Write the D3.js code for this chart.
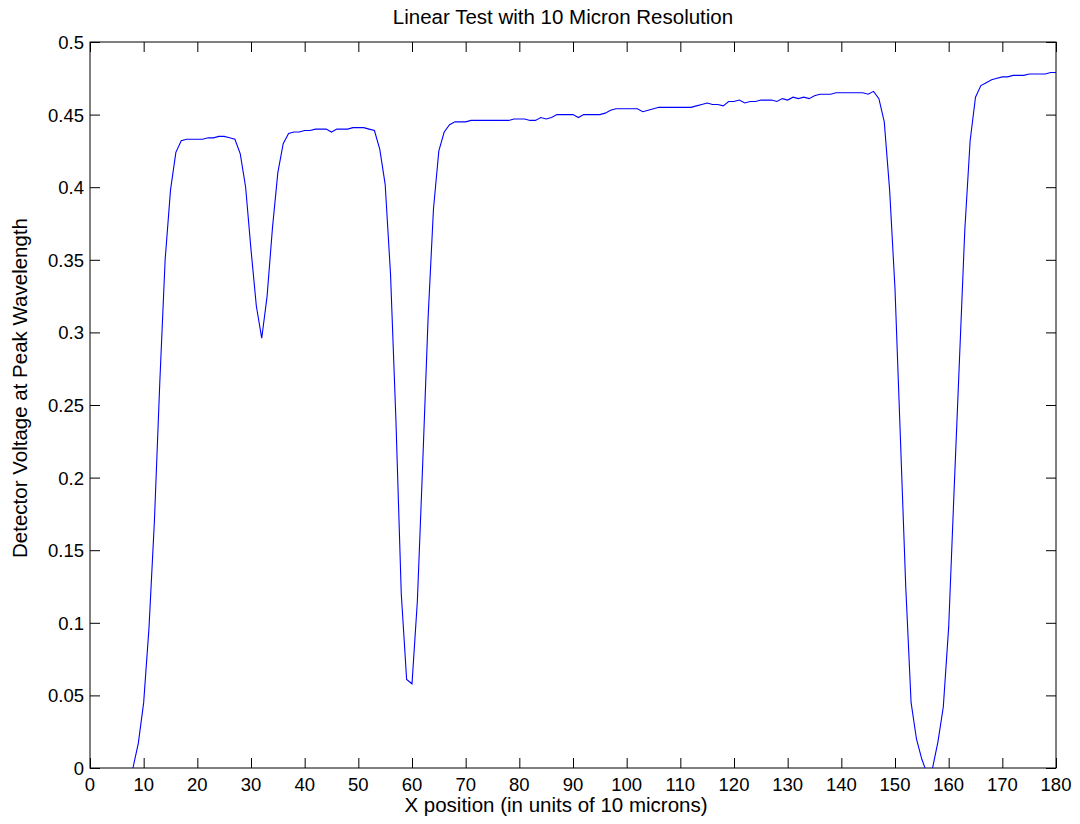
<!DOCTYPE html>
<html>
<head>
<meta charset="utf-8">
<script src="https://cdn.jsdelivr.net/npm/d3@7"></script>
<style>
    body { margin: 0; background: #fff; }
    text { font-family: Arial, "Liberation Sans", sans-serif; fill: #000; }
</style>
</head>
<body>
<svg id="canvas" width="1080" height="824"></svg>
<script>
// x positions (units of 10 microns), one sample per unit
var xStart = 8;
var voltage = [
    0.000, 0.017, 0.045, 0.097, 0.170, 0.265, 0.350, 0.398, 0.424, 0.432,   // 8-17
    0.433, 0.433, 0.433, 0.433, 0.434, 0.434, 0.435, 0.435, 0.434, 0.433,   // 18-27
    0.423, 0.400, 0.357, 0.318, 0.296, 0.325, 0.372, 0.410, 0.430, 0.437,   // 28-37
    0.438, 0.438, 0.439, 0.439, 0.440, 0.440, 0.440, 0.438, 0.440, 0.440,   // 38-47
    0.440, 0.441, 0.441, 0.441, 0.440, 0.439, 0.426, 0.402, 0.340, 0.240,   // 48-57
    0.120, 0.061, 0.058, 0.115, 0.210, 0.310, 0.385, 0.425, 0.438, 0.443,   // 58-67
    0.445, 0.445, 0.445, 0.446, 0.446, 0.446, 0.446, 0.446, 0.446, 0.446,   // 68-77
    0.446, 0.447, 0.447, 0.447, 0.446, 0.446, 0.448, 0.447, 0.448, 0.450,   // 78-87
    0.450, 0.450, 0.450, 0.448, 0.450, 0.450, 0.450, 0.450, 0.451, 0.453,   // 88-97
    0.454, 0.454, 0.454, 0.454, 0.454, 0.452, 0.453, 0.454, 0.455, 0.455,   // 98-107
    0.455, 0.455, 0.455, 0.455, 0.455, 0.456, 0.457, 0.458, 0.457, 0.457,   // 108-117
    0.456, 0.459, 0.459, 0.460, 0.458, 0.459, 0.459, 0.460, 0.460, 0.460,   // 118-127
    0.459, 0.461, 0.460, 0.462, 0.461, 0.462, 0.461, 0.463, 0.464, 0.464,   // 128-137
    0.464, 0.465, 0.465, 0.465, 0.465, 0.465, 0.465, 0.464, 0.466, 0.461,   // 138-147
    0.445, 0.398, 0.330, 0.228, 0.125, 0.045, 0.020, 0.006, -0.004, 0.000,  // 148-157
    0.018, 0.042, 0.097, 0.190, 0.280, 0.370, 0.432, 0.462, 0.470, 0.472,   // 158-167
    0.474, 0.475, 0.476, 0.476, 0.477, 0.477, 0.477, 0.478, 0.478, 0.478,   // 168-177
    0.478, 0.479, 0.479                                                     // 178-180
];
var xTicks = d3.range(0, 181, 10);
var yTicks = [0, 0.05, 0.1, 0.15, 0.2, 0.25, 0.3, 0.35, 0.4, 0.45, 0.5];

var titleText = 'Linear Test with 10 Micron Resolution';
var xLabel = 'X position (in units of 10 microns)';
var yLabel = 'Detector Voltage at Peak Wavelength';

function drawChart() {
    "use strict";

    var svg = d3.select(document.getElementById('canvas'));
    var left = 90, right = 1056, top = 42, bottom = 768;

    var x = d3.scaleLinear().domain([0, 180]).range([left, right]);
    var y = d3.scaleLinear().domain([0, 0.5]).range([bottom, top]);

    var points = voltage.map(function(v, i) { return [xStart + i, v]; });

    svg.append('clipPath').attr('id', 'plotClip')
        .append('rect')
        .attr('x', left).attr('y', top)
        .attr('width', right - left).attr('height', bottom - top);

    // axes, ticks pointing inward on all four sides
    var tickLen = 10;
    svg.append('g').attr('transform', 'translate(0,' + bottom + ')')
        .call(d3.axisTop(x).tickValues(xTicks).tickSize(tickLen).tickFormat(''));
    svg.append('g').attr('transform', 'translate(0,' + top + ')')
        .call(d3.axisBottom(x).tickValues(xTicks).tickSize(tickLen).tickFormat(''));
    svg.append('g').attr('transform', 'translate(' + left + ',0)')
        .call(d3.axisRight(y).tickValues(yTicks).tickSize(tickLen).tickFormat(''));
    svg.append('g').attr('transform', 'translate(' + right + ',0)')
        .call(d3.axisLeft(y).tickValues(yTicks).tickSize(tickLen).tickFormat(''));
    svg.selectAll('.domain').remove();
    svg.selectAll('.tick line').attr('stroke', '#000').attr('stroke-width', 1);

    svg.append('rect')
        .attr('x', left).attr('y', top)
        .attr('width', right - left).attr('height', bottom - top)
        .attr('fill', 'none').attr('stroke', '#000').attr('stroke-width', 1);

    // tick labels
    svg.selectAll('text.xt').data(xTicks).enter().append('text')
        .attr('class', 'xt')
        .attr('x', function(d) { return x(d); })
        .attr('y', bottom + 23)
        .attr('text-anchor', 'middle')
        .style('font-size', '18.5px')
        .text(function(d) { return d; });

    svg.selectAll('text.yt').data(yTicks).enter().append('text')
        .attr('class', 'yt')
        .attr('x', left - 6)
        .attr('y', function(d) { return y(d) + 7; })
        .attr('text-anchor', 'end')
        .style('font-size', '18.5px')
        .text(function(d) { return d; });

    // the trace
    var line = d3.line()
        .x(function(d) { return x(d[0]); })
        .y(function(d) { return y(d[1]); });

    svg.append('path')
        .datum(points)
        .attr('clip-path', 'url(#plotClip)')
        .attr('fill', 'none')
        .attr('stroke', '#0000ff')
        .attr('stroke-width', 1.1)
        .attr('d', line);

    // title and axis labels (sit a little left of the axes centre, as in the original)
    svg.append('text')
        .attr('x', 563).attr('y', 24)
        .attr('text-anchor', 'middle')
        .style('font-size', '20.5px')
        .text(titleText);

    svg.append('text')
        .attr('x', 556).attr('y', 812)
        .attr('text-anchor', 'middle')
        .style('font-size', '20.5px')
        .text(xLabel);

    svg.append('text')
        .attr('transform', 'translate(27,388) rotate(-90)')
        .attr('text-anchor', 'middle')
        .style('font-size', '20.5px')
        .text(yLabel);
}

drawChart();
</script>
</body>
</html>
